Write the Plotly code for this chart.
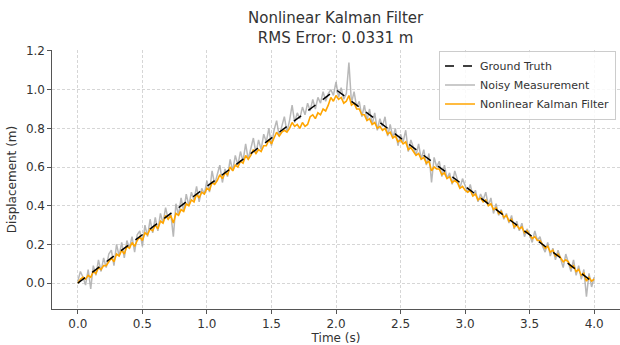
import numpy as np
import plotly.graph_objects as go

# Ground truth (triangle)
truth_t = [0.0, 2.0, 4.0]
truth_y = [0.0, 1.0, 0.0]

# Sample times (dt = 0.02 s)
t = np.linspace(0.0, 4.0, 201)

noisy = [
    0.01, 0.06, 0.03, -0.01, 0.07, -0.03, 0.09, 0.04, 0.12, 0.06,
    0.13, 0.08, 0.15, 0.17, 0.09, 0.20, 0.14, 0.21, 0.13, 0.22,
    0.18, 0.24, 0.16, 0.25, 0.27, 0.19, 0.30, 0.24, 0.33, 0.26,
    0.34, 0.27, 0.36, 0.31, 0.39, 0.33, 0.36, 0.24, 0.41, 0.35,
    0.44, 0.37, 0.46, 0.40, 0.47, 0.43, 0.50, 0.42, 0.49, 0.46,
    0.53, 0.47, 0.58, 0.51, 0.56, 0.61, 0.52, 0.59, 0.55, 0.64,
    0.58, 0.66, 0.61, 0.68, 0.63, 0.72, 0.64, 0.70, 0.75, 0.67,
    0.74, 0.69, 0.77, 0.73, 0.80, 0.71, 0.79, 0.84, 0.76, 0.81,
    0.86, 0.78, 0.84, 0.92, 0.83, 0.88, 0.85, 0.91, 0.87, 0.93,
    0.89, 0.95, 0.90, 0.96, 0.93, 0.99, 0.94, 0.98, 1.00, 0.97,
    1.04,
    0.96, 1.01, 0.95, 0.98, 1.14, 0.93, 0.99, 0.91, 0.94, 0.86,
    0.92, 0.84, 0.90, 0.82, 0.88, 0.79, 0.85, 0.81, 0.86, 0.76,
    0.82, 0.75, 0.80, 0.71, 0.77, 0.73, 0.79, 0.68, 0.74, 0.70,
    0.66, 0.72, 0.64, 0.69, 0.61, 0.67, 0.52, 0.65, 0.60, 0.63,
    0.55, 0.61, 0.54, 0.57, 0.51, 0.58, 0.53, 0.49, 0.54, 0.50,
    0.47, 0.51, 0.45, 0.48, 0.42, 0.46, 0.43, 0.47, 0.40, 0.44,
    0.36, 0.41, 0.35, 0.38, 0.33, 0.36, 0.31, 0.35, 0.28, 0.32,
    0.27, 0.31, 0.24, 0.28, 0.25, 0.21, 0.27, 0.22, 0.24, 0.19,
    0.16, 0.21, 0.14, 0.18, 0.12, 0.17, 0.13, 0.08, 0.15, 0.11,
    0.06, 0.12, 0.04, 0.09, 0.02, 0.07, -0.07, 0.05, -0.02, 0.03,
]

filtered = [
    0.00, 0.02, 0.03, 0.02, 0.04, 0.03, 0.06, 0.05, 0.08, 0.07,
    0.09, 0.09, 0.11, 0.13, 0.11, 0.15, 0.14, 0.17, 0.15, 0.19,
    0.18, 0.21, 0.19, 0.22, 0.24, 0.22, 0.26, 0.25, 0.28, 0.27,
    0.30, 0.28, 0.32, 0.31, 0.35, 0.33, 0.35, 0.31, 0.36, 0.35,
    0.38, 0.37, 0.41, 0.40, 0.43, 0.42, 0.46, 0.44, 0.47, 0.46,
    0.49, 0.48, 0.52, 0.51, 0.53, 0.56, 0.54, 0.57, 0.56, 0.60,
    0.58, 0.61, 0.60, 0.63, 0.62, 0.66, 0.64, 0.66, 0.69, 0.67,
    0.69, 0.68, 0.71, 0.71, 0.74, 0.72, 0.75, 0.78, 0.76, 0.78,
    0.79, 0.78, 0.80, 0.83, 0.81, 0.82, 0.80, 0.83, 0.81, 0.82,
    0.86, 0.87, 0.85, 0.88, 0.87, 0.90, 0.89, 0.92, 0.96, 0.94,
    0.97,
    0.95, 0.96, 0.93, 0.94, 0.97, 0.92, 0.93, 0.90, 0.90, 0.87,
    0.87, 0.84, 0.85, 0.82, 0.83, 0.80, 0.81, 0.79, 0.80, 0.77,
    0.78, 0.75, 0.76, 0.73, 0.74, 0.72, 0.73, 0.69, 0.70, 0.68,
    0.66, 0.67, 0.64, 0.65, 0.62, 0.63, 0.58, 0.60, 0.59, 0.59,
    0.56, 0.57, 0.54, 0.55, 0.52, 0.53, 0.52, 0.49, 0.50, 0.48,
    0.47, 0.48, 0.45, 0.46, 0.43, 0.44, 0.42, 0.43, 0.40, 0.41,
    0.38, 0.39, 0.36, 0.37, 0.34, 0.35, 0.32, 0.33, 0.29, 0.30,
    0.28, 0.29, 0.26, 0.27, 0.25, 0.23, 0.24, 0.22, 0.22, 0.20,
    0.18, 0.19, 0.16, 0.17, 0.14, 0.15, 0.13, 0.11, 0.12, 0.11,
    0.08, 0.09, 0.06, 0.07, 0.04, 0.05, 0.01, 0.03, 0.01, 0.02,
]

x_ticks = [0.0, 0.5, 1.0, 1.5, 2.0, 2.5, 3.0, 3.5, 4.0]
y_ticks = [0.0, 0.2, 0.4, 0.6, 0.8, 1.0, 1.2]

FONT = "DejaVu Sans"
TXT = "#333333"
PLOT_H = 345 - 50 - 36

fig = go.Figure()
fig.add_trace(go.Scatter(x=t, y=noisy, mode="lines", name="Noisy Measurement", legendrank=2,
                         line=dict(color="rgba(160,160,160,0.75)", width=1.5)))
fig.add_trace(go.Scatter(x=t, y=filtered, mode="lines", name="Nonlinear Kalman Filter", legendrank=3,
                         line=dict(color="#FFA500", width=1.6)))
fig.add_trace(go.Scatter(x=truth_t, y=truth_y, mode="lines", name="Ground Truth", legendrank=1,
                         line=dict(color="black", width=1.5, dash="dash")))

fig.update_layout(
    width=620, height=345,
    margin=dict(l=52, r=0, t=50, b=36),
    paper_bgcolor="white", plot_bgcolor="white",
    font=dict(family=FONT, size=12, color=TXT),
    legend=dict(x=0.993, y=0.998, xanchor="right", yanchor="top",
                bgcolor="rgba(255,255,255,0.85)", bordercolor="#cccccc", borderwidth=1,
                font=dict(family=FONT, size=11, color=TXT),
                tracegroupgap=0, itemwidth=30),
    showlegend=True,
    annotations=[dict(text="Nonlinear Kalman Filter<br>RMS Error: 0.0331 m",
                      x=0.5, xref="paper", xanchor="center",
                      y=1 + (50 - 7) / PLOT_H, yref="paper", yanchor="top",
                      showarrow=False, align="center",
                      font=dict(family=FONT, size=15, color=TXT))],
)
fig.update_xaxes(range=[-0.2, 4.2], tickvals=x_ticks, ticktext=[f"{v:.1f}" for v in x_ticks],
                 showgrid=True, gridcolor="#d6d6d6", griddash="3px,2px", gridwidth=0.8,
                 showline=True, linecolor="#555555", linewidth=1.2,
                 ticks="outside", ticklen=3.5, tickcolor="#555555", zeroline=False,
                 title=dict(text="Time (s)", standoff=1, font=dict(size=12, color=TXT)),
                 tickfont=dict(size=12, color=TXT))
fig.update_yaxes(range=[-0.134, 1.205], tickvals=y_ticks, ticktext=[f"{v:.1f}" for v in y_ticks],
                 showgrid=True, gridcolor="#d6d6d6", griddash="3px,2px", gridwidth=0.8,
                 showline=True, linecolor="#555555", linewidth=1.2,
                 ticks="outside", ticklen=3.5, tickcolor="#555555", zeroline=False,
                 title=dict(text="Displacement (m)", standoff=6, font=dict(size=12, color=TXT)),
                 tickfont=dict(size=12, color=TXT))

fig.write_html("out.html")
